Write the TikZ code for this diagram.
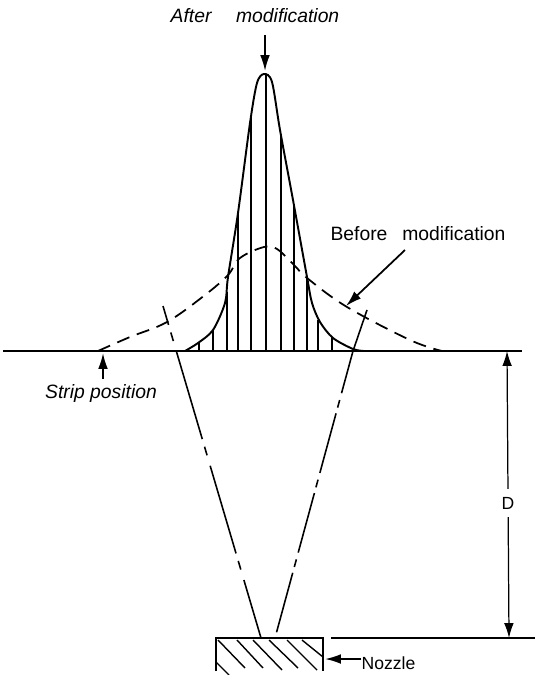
\documentclass[tikz,border=0pt]{standalone}
\usepackage{fontspec}
\setmainfont{Liberation Sans}
\usetikzlibrary{arrows.meta, calc}
\tikzset{
    lbl/.style={font=\fontsize{11}{13}\selectfont, inner sep=0pt},
    pointer/.style={-{Latex[length=9pt,width=5.5pt]}, line width=1pt},
    dimline/.style={{Latex[length=8.5pt,width=5.5pt]}-{Latex[length=8.5pt,width=5.5pt]}, line width=0.7pt},
    hatch/.style={line width=0.8pt}
}

\begin{document}
\begin{tikzpicture}[x=0.02cm, y=-0.02cm]
    \useasboundingbox (0,0) rectangle (536,675);

    % --- STRIP AND REFERENCE LINES ---
    \draw[line width=1.1pt] (3,351) -- (522,351);
    \draw[line width=1.1pt] (331,638) -- (535,638);

    % Profile after modification
    \draw[line width=1.1pt] plot[smooth, tension=0.5] coordinates {(185,351) (198,343) (213,330) (225,303) (228,277)
        (238,213) (250,123) (257,83) (264,74) (272,82) (280,130) (293,200) (307,277) (312,303) (320,322) (333,338) (353,349) (364,351)};
    \foreach \x/\y in {199/342, 213/330, 227/292, 238/213, 251/118, 266/74, 281/135, 294/205, 307/277, 318/320, 332/337}
        \draw[hatch] (\x, \y) -- (\x, 351);

    % Profile before modification
    \draw[line width=1pt, dash pattern=on 7.5pt off 4.5pt] plot[smooth, tension=0.6] coordinates {(98,351) (130,337) (167,322)
        (205,295) (228,275) (240,258) (264,247) (277,249) (295,266) (307,278) (347,307) (410,340) (442,351)};

    % Spray boundaries
    \draw[line width=0.9pt, dash pattern=on 52pt off 4.5pt on 5.1pt off 6.2pt, dash phase=40.8pt] (163,306) -- (261,638);
    \draw[line width=0.9pt] (367,310) -- (353,351);
    \draw[line width=0.9pt, dash pattern=on 35.1pt off 4pt on 4.5pt off 3.4pt, dash phase=10.2pt] (353,351) -- (275,638);

    % --- NOZZLE ---
    \draw[line width=1pt] (216,671) -- (216,638) -- (323,638) -- (323,671);
    \foreach \a/\b/\c/\d in {218/640/245/668, 237/640/263/668, 253/640/282/670, 269/640/298/668, 287/640/317/670, 302/640/323/657, 216/662/229/675}
        \draw[hatch] (\a, \b) -- (\c, \d);

    % --- DISTANCE D ---
    \coordinate (dtop) at (507,351);
    \coordinate (dbot) at (509,638);
    \draw[dimline] (dtop) -- (dbot);
    \node[lbl, font=\fontsize{10}{12}\selectfont, fill=white, inner ysep=4.5pt, inner xsep=2pt] (dlabel) at (508,503) {D};

    % --- ANNOTATIONS ---
    \node[lbl, font=\fontsize{11}{13}\selectfont\itshape] (afterlabel) at (255,16) {After\hspace{14pt}modification};
    \coordinate (aftertail) at (265,35);
    \coordinate (aftertip) at (265,71);
    \draw[pointer] (aftertail) -- (aftertip);

    \node[lbl] (beforelabel) at (418,234) {Before\hspace{8.5pt}modification};
    \coordinate (beforetail) at (405,250);
    \coordinate (beforetip) at (346,306);
    \draw[pointer] (beforetail) -- (beforetip);

    \node[lbl, font=\fontsize{11}{13}\selectfont\itshape] (striplabel) at (101,393) {Strip position};
    \coordinate (striptail) at (103,379);
    \coordinate (striptip) at (103,353);
    \draw[pointer] (striptail) -- (striptip);

    \node[lbl, font=\fontsize{10}{12}\selectfont] (nozzlelabel) at (388.5,663) {Nozzle};
    \coordinate (nozzletip) at (325,659);
    \draw[pointer] (nozzlelabel.west |- nozzletip) -- (nozzletip);
\end{tikzpicture}
\end{document}
